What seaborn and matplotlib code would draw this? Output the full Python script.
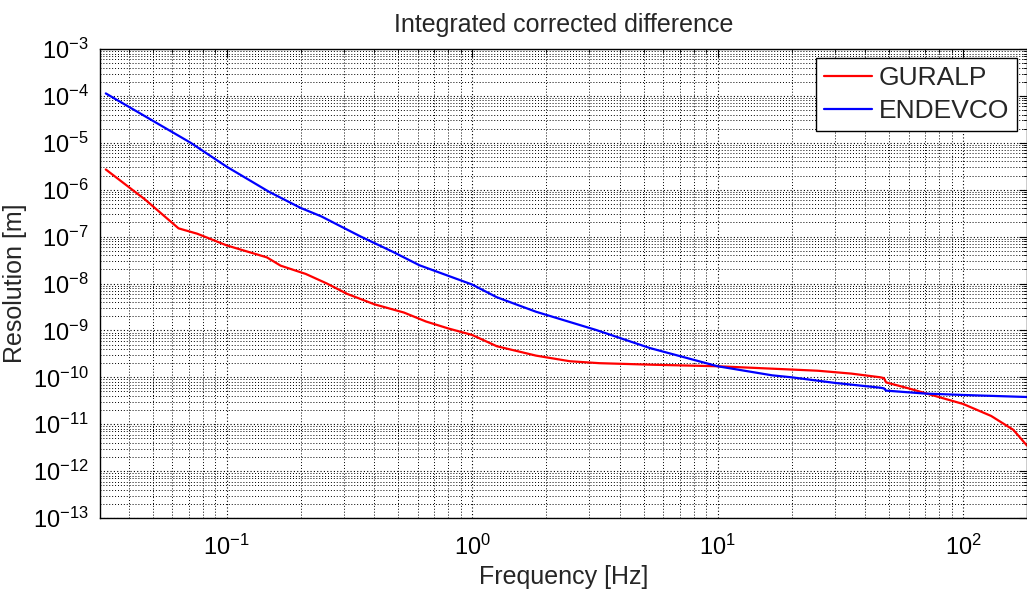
import matplotlib
matplotlib.use('Agg')
import matplotlib.pyplot as plt
import seaborn as sns
import pandas as pd
from matplotlib.ticker import LogLocator, LogFormatterMathtext, NullFormatter

# values (log-log)
guralp_freq = [0.0322, 0.0465, 0.0637, 0.076, 0.1, 0.146, 0.166, 0.21, 0.256,
               0.31, 0.40, 0.528, 0.648, 0.8, 1.0, 1.26, 1.82, 2.5, 3.3, 5.5,
               10, 18, 25.6, 35, 46, 47.6, 48.5, 60, 70, 100, 130, 160, 182]
guralp_res = [2.7e-6, 6.2e-7, 1.5e-7, 1.15e-7, 6.5e-8, 3.6e-8, 2.4e-8, 1.6e-8,
              1.0e-8, 6.0e-9, 3.6e-9, 2.4e-9, 1.55e-9, 1.1e-9, 8.0e-10,
              4.6e-10, 2.9e-10, 2.2e-10, 2.0e-10, 1.85e-10, 1.72e-10, 1.5e-10,
              1.38e-10, 1.2e-10, 1.0e-10, 9.6e-11, 7.8e-11, 5.8e-11, 4.6e-11,
              2.7e-11, 1.5e-11, 7.6e-12, 3.5e-12]

endevco_freq = [0.0322, 0.0714, 0.1, 0.149, 0.20, 0.243, 0.352, 0.477, 0.61,
                1.0, 1.26, 1.82, 3.2, 5.3, 10, 16.7, 20, 30, 46, 47.6, 48.5,
                70, 100, 182]
endevco_res = [1.13e-4, 1.0e-5, 3.1e-6, 9.0e-7, 4.1e-7, 2.7e-7, 1.0e-7,
               4.7e-8, 2.45e-8, 9.5e-9, 5.1e-9, 2.5e-9, 1.02e-9, 4.2e-10,
               1.72e-10, 1.1e-10, 1.0e-10, 7.6e-11, 6.0e-11, 5.8e-11, 5.2e-11,
               4.5e-11, 4.2e-11, 3.8e-11]

sensors = ['GURALP', 'ENDEVCO']
colors = {'GURALP': 'red', 'ENDEVCO': 'blue'}

df = pd.concat([
    pd.DataFrame({'Frequency': guralp_freq, 'Resolution': guralp_res,
                  'Sensor': 'GURALP'}),
    pd.DataFrame({'Frequency': endevco_freq, 'Resolution': endevco_res,
                  'Sensor': 'ENDEVCO'}),
], ignore_index=True)

sns.set_style('white')
plt.rcParams['font.family'] = ['Liberation Sans', 'DejaVu Sans']
plt.rcParams['mathtext.fontset'] = 'custom'
plt.rcParams['mathtext.rm'] = 'Liberation Sans'
plt.rcParams['mathtext.it'] = 'Liberation Sans'
plt.rcParams['mathtext.default'] = 'regular'
plt.rcParams['axes.unicode_minus'] = False

fig = plt.figure(figsize=(10.27, 5.9), dpi=100)
ax = fig.add_axes([100 / 1027, 72 / 590, 927 / 1027, 469 / 590])

sns.lineplot(
    data=df,
    x='Frequency',
    y='Resolution',
    hue='Sensor',
    hue_order=sensors,
    palette=colors,
    estimator=None,
    sort=False,
    linewidth=1.6,
    ax=ax
)

ax.set_xscale('log')
ax.set_yscale('log')
ax.set_xlim(0.0305, 182)
ax.set_ylim(1e-13, 1e-3)

ax.xaxis.set_major_locator(LogLocator(base=10, numticks=20))
ax.xaxis.set_minor_locator(LogLocator(base=10, subs=range(2, 10), numticks=50))
ax.yaxis.set_major_locator(LogLocator(base=10, numticks=20))
ax.yaxis.set_minor_locator(LogLocator(base=10, subs=range(2, 10), numticks=100))
ax.xaxis.set_major_formatter(LogFormatterMathtext())
ax.yaxis.set_major_formatter(LogFormatterMathtext())
ax.xaxis.set_minor_formatter(NullFormatter())
ax.yaxis.set_minor_formatter(NullFormatter())

# matlab style dotted grid
ax.grid(True, which='major', color='black', linestyle=(0, (1, 2)), linewidth=0.8)
ax.grid(True, which='minor', color='black', linestyle=(0, (1, 2)), linewidth=0.7)

ax.tick_params(which='both', direction='in', top=True, right=True,
               colors='black', labelsize=17)
ax.tick_params(which='major', length=6, width=0.8, pad=8)
ax.tick_params(axis='x', which='major', pad=12)
ax.tick_params(which='minor', length=3, width=0.6)
for sp in ax.spines.values():
    sp.set_color('black')
    sp.set_linewidth(1.0)

ax.set_title('Integrated corrected difference', fontsize=18, pad=12)
ax.set_xlabel('Frequency [Hz]', fontsize=18, labelpad=4)
ax.set_ylabel('Resolution [m]', fontsize=18, labelpad=4)

handles, labels = ax.get_legend_handles_labels()
leg = ax.legend(
    handles, labels,
    loc='upper right',
    bbox_to_anchor=(0.989, 0.981),
    borderaxespad=0,
    fontsize=19,
    frameon=True,
    fancybox=False,
    framealpha=1,
    edgecolor='black',
    handlelength=1.8,
    handletextpad=0.25,
    labelspacing=0.35,
    borderpad=0.3
)
leg.get_frame().set_linewidth(1.0)

fig.savefig('out.png', dpi=100)
